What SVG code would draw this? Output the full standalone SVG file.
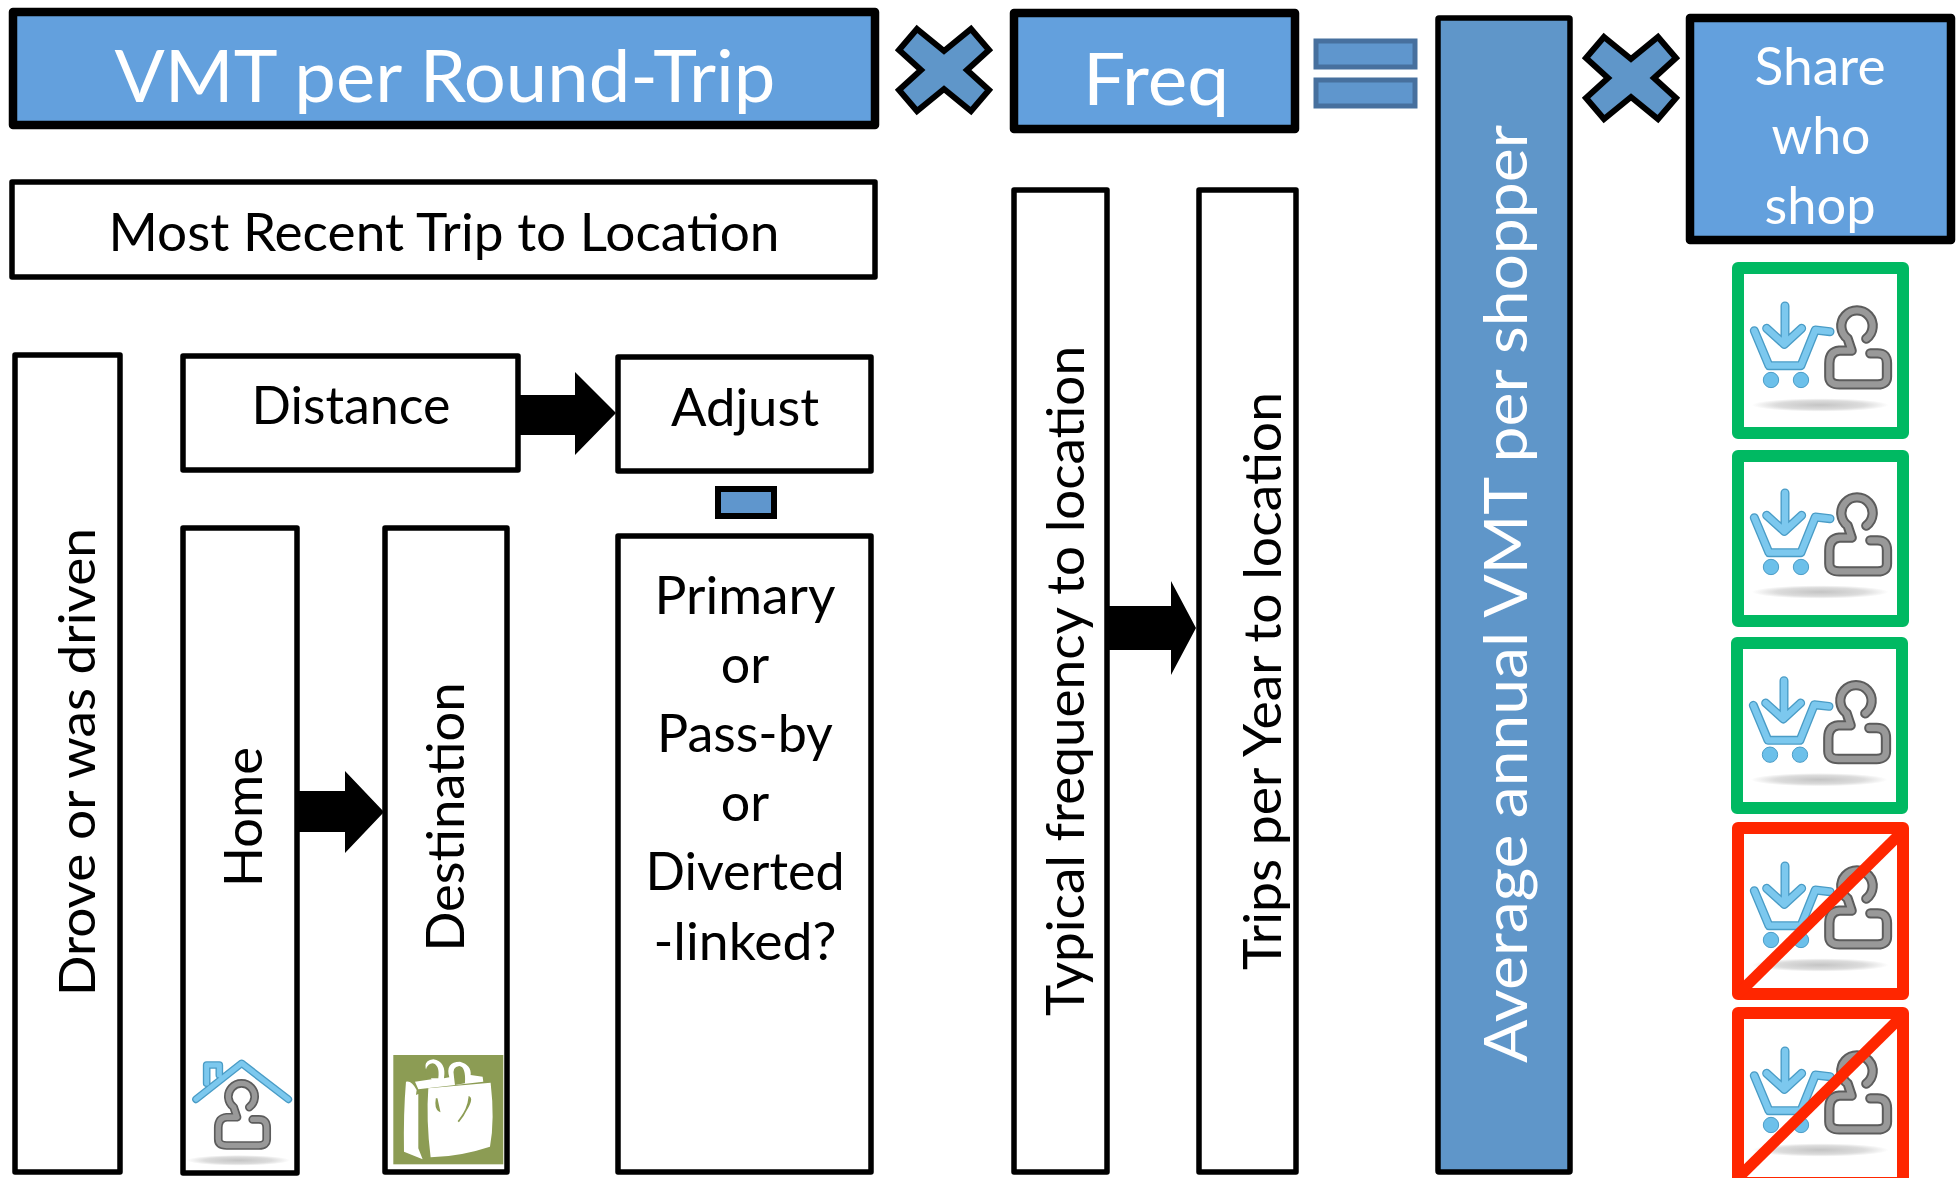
<svg xmlns="http://www.w3.org/2000/svg" width="1959" height="1178" viewBox="0 0 1959 1178">
<style>
text{font-family:Lato,"Liberation Sans",sans-serif;fill:#000;text-anchor:middle}
.w{fill:#fff}
.box{fill:#fff;stroke:#000;stroke-width:5.5;stroke-linejoin:round}
.hd{fill:#63a0dd;stroke:#000;stroke-width:8.5;stroke-linejoin:round}
.grn{fill:#fff;stroke:#00b962;stroke-width:12;stroke-linejoin:round}
.red{fill:#fff;stroke:#ff2600;stroke-width:12;stroke-linejoin:round}
.dash{stroke:#ff2600;stroke-width:11}
.eq{fill:#5f96cd;stroke:#47709e;stroke-width:5}
.op{fill:#5f96c9;stroke:#000;stroke-width:6;stroke-linejoin:miter}
.p1{fill:none;stroke:#5c5c5c;stroke-width:31;stroke-linecap:round;stroke-linejoin:round}
.p2{fill:none;stroke:#999;stroke-width:19;stroke-linecap:round;stroke-linejoin:round}
.c1{fill:none;stroke:#4a9cc6;stroke-width:27;stroke-linecap:round;stroke-linejoin:round}
.c2{fill:none;stroke:#7cc8ee;stroke-width:19;stroke-linecap:round;stroke-linejoin:round}
</style>
<defs>
<filter id="soft" x="-5%" y="-5%" width="110%" height="110%"><feGaussianBlur stdDeviation="1.6"/></filter>
<radialGradient id="sh"><stop offset="0" stop-color="#c4c4c4"/><stop offset=".65" stop-color="#dcdcdc"/><stop offset="1" stop-color="#fff"/></radialGradient>
<path id="personP" d="M556 266A47 47 0 1 0 500 266L512 302H475Q445 305 445 340V380Q445 403 475 403H590Q618 403 618 380V340Q618 310 590 310H568"/>
<path id="cartP" d="M220 242L264 347H360L403 240L447 245M312 168V270M257 235L310 283L362 235"/>
<g id="shopper" filter="url(#soft)">
<ellipse cx="418" cy="465" rx="205" ry="20" fill="url(#sh)"/>
<use href="#cartP" class="c1"/><use href="#cartP" class="c2"/>
<circle cx="270" cy="390" r="23" fill="#6cc0ea" stroke="#4a9cc6" stroke-width="3"/>
<circle cx="360" cy="390" r="23" fill="#6cc0ea" stroke="#4a9cc6" stroke-width="3"/>
<use href="#personP" class="p1"/><use href="#personP" class="p2"/>
</g>
<path id="xm" d="M-27 -41L0 -19L27 -41L45 -20L23 0L45 20L27 41L0 19L-27 41L-45 20L-23 0L-45 -20Z"/>
</defs>
<g id="connectors">
<path d="M518 395H575V372L616 413L575 455V435H518Z"/>
<path d="M297 791H345V771L384 812L345 853V832H297Z"/>
<path d="M1107 606H1171V581L1196 628L1171 675V650H1107Z"/>
</g>
<g id="vmt"><rect class="hd" x="13" y="12" width="862" height="113"/><text class="w" x="445" y="102" font-size="72" textLength="661" lengthAdjust="spacingAndGlyphs">VMT per Round-Trip</text></g>
<g id="times1"><use href="#xm" x="944" y="70" class="op"/></g>
<g id="freq"><rect class="hd" x="1014" y="13" width="281" height="116"/><text class="w" x="1156" y="105" font-size="72" textLength="146" lengthAdjust="spacingAndGlyphs">Freq</text></g>
<g id="equals"><rect class="eq" x="1316" y="41" width="99" height="26"/><rect class="eq" x="1316" y="80" width="99" height="26"/></g>
<g id="recent"><rect class="box" x="12" y="182" width="863" height="95"/><text x="444" y="251" font-size="52" textLength="671" lengthAdjust="spacingAndGlyphs">Most Recent Trip to Location</text></g>
<g id="drove"><rect class="box" x="15" y="355" width="105" height="817"/><text transform="translate(95 762) rotate(-90)" font-size="50" textLength="468" lengthAdjust="spacingAndGlyphs">Drove or was driven</text></g>
<g id="distance"><rect class="box" x="183" y="356" width="335" height="114"/><text x="351" y="424" font-size="52" textLength="199" lengthAdjust="spacingAndGlyphs">Distance</text></g>
<g id="adjust"><rect class="box" x="618" y="357" width="253" height="114"/><text x="745" y="426" font-size="52" textLength="148" lengthAdjust="spacingAndGlyphs">Adjust</text></g>
<g id="minus"><rect x="718" y="489" width="56" height="27" fill="#5f96cd" stroke="#000" stroke-width="6"/></g>
<g id="purpose"><rect class="box" x="618" y="536" width="253" height="636"/>
<text x="745" y="614" font-size="52" textLength="181" lengthAdjust="spacingAndGlyphs">Primary</text><text x="745" y="683" font-size="52">or</text><text x="745" y="752" font-size="52">Pass-by</text><text x="745" y="821" font-size="52">or</text><text x="745" y="890" font-size="52">Diverted</text><text x="745" y="960" font-size="52" textLength="183" lengthAdjust="spacingAndGlyphs">-linked?</text></g>
<g id="home"><rect class="box" x="183" y="528" width="114" height="645"/><text transform="translate(262 817) rotate(-90)" font-size="52" textLength="140" lengthAdjust="spacingAndGlyphs">Home</text>
<g transform="translate(170 1020) scale(.3333)" filter="url(#soft)"><ellipse cx="205" cy="421" rx="155" ry="16" fill="url(#sh)"/>
<path d="M110 190V135H148V165M78 238L215 130L355 238" fill="none" stroke="#4a9cc6" stroke-width="23" stroke-linecap="round" stroke-linejoin="round"/><path d="M110 190V135H148V165M78 238L215 130L355 238" fill="none" stroke="#7cc8ee" stroke-width="15" stroke-linecap="round" stroke-linejoin="round"/>
<g transform="translate(-229 38) scale(.84)"><use href="#personP" class="p1"/><use href="#personP" class="p2"/></g></g></g>
<g id="destination"><rect class="box" x="385" y="528" width="122" height="644"/><text transform="translate(464 817) rotate(-90)" font-size="52" textLength="269" lengthAdjust="spacingAndGlyphs">Destination</text>
<g transform="translate(170 1020) scale(.3333)"><rect x="670" y="105" width="330" height="328" fill="#8c9c54"/>
<path d="M708 185Q725 180 740 210L738 225L745 222V385L758 418L702 395Q700 280 708 185ZM775 205L962 188Q975 300 960 380Q870 410 782 412Q768 300 775 205ZM735 185L785 178Q745 125 790 118Q830 125 822 175L838 172Q825 125 870 125Q905 135 902 165L938 170L940 185L745 208Z" fill="#fff"/>
<path d="M770 175Q760 135 788 130Q810 135 805 175ZM852 170Q845 140 868 138Q888 140 885 190L855 195Z" fill="#8c9c54"/>
<path d="M800 235L808 272Q795 265 800 235ZM898 232Q912 240 865 305Q895 270 898 232Z" fill="#8c9c54" stroke="#8c9c54" stroke-width="5"/></g></g>
<g id="typical"><rect class="box" x="1014" y="190" width="93" height="982"/><text transform="translate(1084 681) rotate(-90)" font-size="52" textLength="670" lengthAdjust="spacingAndGlyphs">Typical frequency to location</text></g>
<g id="trips"><rect class="box" x="1199" y="190" width="97" height="982"/><text transform="translate(1281 681) rotate(-90)" font-size="52" textLength="578" lengthAdjust="spacingAndGlyphs">Trips per Year to location</text></g>
<g id="average"><rect x="1438" y="18" width="132" height="1154" rx="1" fill="#5f96c9" stroke="#000" stroke-width="5.5" stroke-linejoin="round"/><text class="w" transform="translate(1527 594) rotate(-90)" font-size="60" textLength="938" lengthAdjust="spacingAndGlyphs">Average annual VMT per shopper</text></g>
<g id="times2"><use href="#xm" x="1631" y="78" class="op"/></g>
<g id="share"><rect class="hd" x="1690" y="18" width="261" height="222"/><text class="w" x="1820" y="85" font-size="52" textLength="131" lengthAdjust="spacingAndGlyphs">Share</text><text class="w" x="1821" y="154" font-size="52" textLength="99" lengthAdjust="spacingAndGlyphs">who</text><text class="w" x="1820" y="224" font-size="52" textLength="111" lengthAdjust="spacingAndGlyphs">shop</text></g>
<g id="s1"><rect class="grn" x="1738" y="268" width="165" height="165"/><use href="#shopper" transform="translate(1681 250) scale(.3333)"/></g>
<g id="s2"><rect class="grn" x="1738" y="456" width="165" height="165"/><use href="#shopper" transform="translate(1681 437) scale(.3333)"/></g>
<g id="s3"><rect class="grn" x="1737" y="643" width="165" height="165"/><use href="#shopper" transform="translate(1680 624.7) scale(.3333)"/></g>
<g id="s4"><rect class="red" x="1738" y="828" width="165" height="166"/><use href="#shopper" transform="translate(1681 810) scale(.3333)"/><path class="dash" d="M1905 829L1738 994"/></g>
<g id="s5"><rect class="red" x="1738" y="1013" width="165" height="170"/><use href="#shopper" transform="translate(1681 995) scale(.3333)"/><path class="dash" d="M1905 1013L1740 1176"/></g>
</svg>
